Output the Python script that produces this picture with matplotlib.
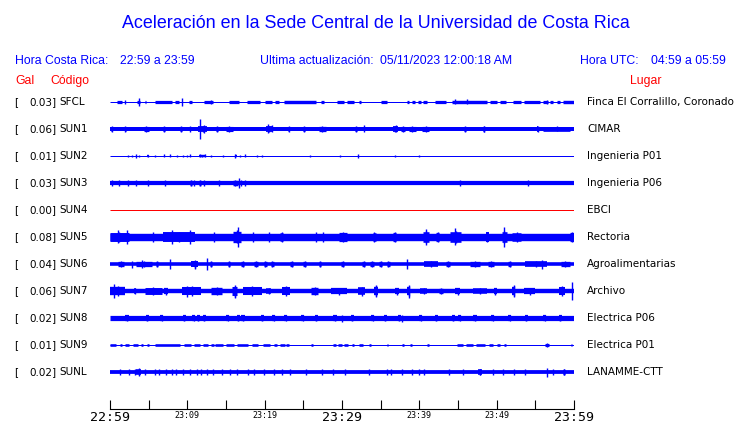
import matplotlib
matplotlib.use('Agg')
import matplotlib.pyplot as plt

W, H = 740, 423
ROW = 27.0  # trace amplitude units per row spacing

codes = ['SFCL', 'SUN1', 'SUN2', 'SUN3', 'SUN4', 'SUN5', 'SUN6', 'SUN7', 'SUN8', 'SUN9', 'SUNL']
gal = [0.03, 0.06, 0.01, 0.03, 0.00, 0.08, 0.04, 0.06, 0.02, 0.01, 0.02]
places = ['Finca El Corralillo, Coronado', 'CIMAR', 'Ingenieria P01', 'Ingenieria P06', 'EBCI',
          'Rectoria', 'Agroalimentarias', 'Archivo', 'Electrica P06', 'Electrica P01', 'LANAMME-CTT']

# background (noise) level of each trace
noise = [0.5, 2.0, 0.5, 2.1, 0.5, 3.7, 1.8, 2.2, 2.6, 0.5, 1.9]

# bursts: (start minute, end minute, peak half amplitude)
sfcl_bursts = [(0.9, 1.6, 1.6), (3.5, 3.9, 1.6), (4.5, 4.7, 1.6), (5.8, 8.0, 1.6), (8.4, 8.9, 1.6),
               (10.2, 10.6, 1.6), (12.2, 13.3, 1.6), (15.4, 16.7, 1.6), (17.7, 19.4, 1.6),
               (20.0, 20.9, 1.6), (21.4, 21.9, 1.6), (22.5, 26.7, 1.7), (27.3, 27.7, 1.6),
               (29.4, 30.2, 1.6), (30.6, 31.5, 1.6), (32.2, 32.4, 1.6), (35.1, 35.8, 1.6),
               (38.4, 38.7, 1.6), (39.1, 39.4, 1.6), (39.8, 40.2, 1.6), (40.5, 41.0, 1.6),
               (42.0, 43.5, 1.6), (44.2, 48.7, 1.7), (49.2, 50.1, 1.6), (50.4, 51.2, 1.6),
               (52.1, 53.2, 1.6), (53.5, 55.6, 1.6), (56.0, 56.6, 1.6), (56.9, 57.3, 1.6),
               (57.8, 58.2, 1.6), (58.6, 60.0, 1.7)]
sfcl_spikes = [(3.7, 4.0), (9.3, 4.2), (44.6, 2.5), (46.2, 2.5), (56.5, 2.2), (2.0, 1.6), (13.0, 1.6)]

sun1_bursts = [(0.1, 0.3, 2.8), (1.9, 2.1, 2.8), (4.4, 5.0, 2.8), (6.9, 7.1, 2.8), (9.1, 9.3, 2.8),
               (10.3, 10.4, 2.8), (11.4, 12.6, 3.3), (13.7, 14.0, 2.8), (15.0, 15.9, 2.8),
               (20.2, 21.0, 3.3), (23.0, 23.2, 2.8), (25.0, 25.2, 2.8), (27.0, 27.9, 2.9),
               (31.7, 31.9, 2.8), (36.6, 37.2, 3.3), (37.6, 38.2, 2.8), (38.6, 39.6, 2.8),
               (40.4, 41.2, 2.8), (45.8, 46.0, 2.8), (48.2, 48.4, 2.8), (55.2, 55.4, 3.3),
               (56.0, 59.5, 2.5)]
sun1_spikes = [(11.7, 10.0), (12.1, 4.0), (20.4, 4.5), (32.9, 3.5), (37.0, 3.5), (48.3, 3.0), (21.0, 3.5)]

sun2_bursts = [(4.8, 5.1, 1.2), (11.5, 12.4, 1.2), (16.1, 16.4, 1.2)]
sun2_spikes = [(2.3, 1.4), (2.9, 1.3), (3.3, 1.6), (3.8, 1.4), (4.95, 1.4), (5.8, 1.3), (7.0, 1.5),
               (7.75, 1.5), (8.6, 1.3), (9.5, 1.3), (9.9, 1.3), (10.3, 1.5), (11.6, 1.5), (11.9, 1.3),
               (12.3, 1.5), (13.1, 1.3), (14.6, 1.3), (16.2, 1.6), (16.8, 1.3), (17.4, 1.5),
               (19.0, 1.3), (19.6, 1.3), (25.9, 1.3), (29.8, 1.3), (32.1, 1.6), (36.8, 1.3), (39.9, 1.3)]

sun3_bursts = [(10.3, 10.6, 3.0), (11.5, 11.8, 3.0), (15.9, 16.5, 3.0)]
sun3_spikes = [(0.2, 3.0), (1.1, 3.0), (2.3, 3.0), (3.3, 3.0), (4.95, 3.0), (7.1, 3.0), (10.9, 3.0),
               (12.1, 3.0), (14.1, 3.0), (16.7, 5.0), (17.0, 3.0), (17.5, 3.0), (45.3, 3.0), (54.1, 3.0)]

sun4_bursts = []
sun4_spikes = []

sun5_bursts = [(0.0, 2.4, 4.8), (6.9, 11.0, 5.5), (15.9, 17.0, 6.5), (22.0, 22.4, 4.5), (29.6, 30.6, 5.0),
               (34.0, 34.4, 4.5), (36.6, 37.0, 5.0), (40.5, 41.2, 6.0), (42.2, 42.6, 5.0),
               (44.0, 45.4, 6.0), (48.6, 49.0, 5.5), (50.7, 51.3, 6.0), (52.0, 53.2, 4.5), (59.5, 60.0, 5.0)]
sun5_spikes = [(1.0, 6.5), (2.2, 7.0), (8.0, 7.0), (10.3, 7.5), (16.6, 10.0), (40.8, 8.0), (44.6, 8.5),
               (51.0, 9.5), (26.6, 5.0), (13.5, 4.5), (20.5, 4.5), (27.6, 5.0), (5.5, 4.5), (18.5, 4.5)]

sun6_bursts = [(1.0, 1.8, 3.0), (3.4, 5.4, 3.0), (6.0, 6.2, 3.0), (10.5, 11.4, 3.5), (12.9, 13.2, 3.0),
               (15.2, 15.5, 3.0), (17.0, 17.3, 3.0), (18.6, 19.1, 3.0), (19.9, 20.3, 3.0),
               (20.8, 21.2, 3.0), (23.3, 23.7, 3.0), (25.0, 25.4, 3.0), (27.0, 27.3, 3.0),
               (29.9, 30.3, 3.0), (32.6, 33.0, 3.0), (33.6, 34.1, 3.0), (34.8, 35.2, 3.0),
               (35.8, 36.2, 3.0), (40.6, 42.4, 3.3), (43.5, 44.0, 3.0), (46.5, 47.8, 3.0),
               (48.9, 49.6, 3.0), (51.5, 51.9, 3.0), (53.7, 56.5, 3.3), (58.3, 59.5, 3.0)]
sun6_spikes = [(7.8, 5.0), (12.5, 6.0), (11.0, 4.5), (38.4, 5.0), (55.8, 4.5), (4.2, 4.0), (2.8, 3.5)]

sun7_bursts = [(0.0, 2.0, 5.0), (3.1, 3.4, 3.0), (4.5, 6.7, 4.0), (7.0, 7.5, 3.5), (9.3, 11.8, 4.8),
               (13.1, 14.5, 4.3), (15.8, 16.4, 5.5), (17.2, 19.6, 4.8), (20.2, 20.8, 3.0),
               (22.2, 23.3, 4.8), (26.0, 26.9, 4.3), (28.6, 30.6, 3.5), (32.1, 33.0, 4.5),
               (34.2, 34.6, 5.0), (36.8, 37.4, 3.5), (38.4, 38.8, 5.0), (40.1, 41.0, 3.0),
               (42.6, 43.0, 2.8), (44.6, 45.3, 3.5), (46.9, 48.8, 3.0), (49.6, 50.0, 3.5),
               (52.0, 52.4, 5.0), (53.5, 55.0, 3.5), (58.1, 58.8, 4.8)]
sun7_spikes = [(0.5, 7.0), (10.0, 5.5), (16.1, 6.5), (34.4, 6.0), (38.6, 6.5), (52.2, 6.0), (59.7, 9.0)]

sun8_bursts = [(t, t + 0.4, 3.3) for t in
               [2.0, 4.6, 6.5, 9.4, 10.6, 11.2, 12.0, 15.0, 16.4, 17.0, 19.5, 21.0, 22.5, 24.7, 26.5,
                28.9, 31.1, 33.8, 35.4, 37.2, 40.0, 42.0, 44.2, 45.0, 47.0, 49.3, 51.5, 53.6, 56.0, 58.0]]
sun8_spikes = [(30.0, 3.5), (37.7, 3.5)]

sun9_bursts = [(0.0, 0.8, 1.3), (1.3, 1.6, 1.3), (2.0, 2.5, 1.3), (3.0, 3.6, 1.3), (4.0, 4.3, 1.3),
               (4.8, 5.1, 1.3), (5.8, 9.1, 1.3), (9.6, 10.5, 1.3), (10.8, 11.6, 1.3), (12.0, 12.7, 1.3),
               (13.1, 13.4, 1.3), (13.6, 14.6, 1.3), (15.0, 16.0, 1.3), (16.4, 17.8, 1.3),
               (18.3, 19.2, 1.3), (19.8, 20.7, 1.3), (21.2, 21.6, 1.3), (22.0, 22.6, 1.3),
               (22.8, 23.2, 1.3), (26.0, 26.2, 1.3), (28.8, 29.2, 1.3), (29.5, 30.0, 1.3),
               (30.2, 30.8, 1.3), (31.3, 31.6, 1.3), (32.2, 32.7, 1.3), (33.5, 33.7, 1.3),
               (35.8, 36.0, 1.3), (37.8, 38.0, 1.3), (38.8, 39.0, 1.3), (41.0, 41.3, 1.3),
               (44.9, 45.6, 1.3), (46.0, 47.0, 1.3), (47.3, 48.5, 1.3), (49.0, 49.5, 1.3),
               (50.1, 50.4, 1.3), (51.0, 51.2, 1.3), (56.2, 56.8, 2.0), (59.6, 59.8, 1.3)]
sun9_spikes = []

sunl_bursts = [(3.4, 4.0, 3.2), (47.6, 48.1, 3.2), (58.6, 58.9, 3.0)]
sunl_spikes = [(t, 2.8) for t in
               [1.3, 2.5, 3.2, 4.5, 5.8, 6.3, 7.3, 8.0, 8.5, 9.5, 10.3, 11.2, 11.8, 12.6, 13.3, 14.5,
                15.5, 16.4, 17.8, 18.6, 19.9, 21.2, 22.3, 23.3, 25.3, 27.4, 28.8, 30.4, 33.5, 35.8,
                36.3, 37.8, 39.0, 39.9, 40.6, 43.8, 45.6, 49.5, 50.8, 52.2, 53.6, 57.3]] + \
              [(3.7, 4.2), (47.8, 3.2), (56.5, 4.5), (58.7, 3.2)]

bursts = [sfcl_bursts, sun1_bursts, sun2_bursts, sun3_bursts, sun4_bursts, sun5_bursts,
          sun6_bursts, sun7_bursts, sun8_bursts, sun9_bursts, sunl_bursts]
spikes = [sfcl_spikes, sun1_spikes, sun2_spikes, sun3_spikes, sun4_spikes, sun5_spikes,
          sun6_spikes, sun7_spikes, sun8_spikes, sun9_spikes, sunl_spikes]

tick_minutes = list(range(0, 61, 5))
tick_labels = ['22:59', '', '23:09', '', '23:19', '', '23:29', '', '23:39', '', '23:49', '', '23:59']
big_labels = ['22:59', '23:29', '23:59']


def fx(px):
    return px / W


def fy(py):
    return 1 - py / H


def lw(amp):
    # full trace thickness (2*amp, in pixels) as a line width in points
    return 2 * amp * 72 / 100


fig = plt.figure(figsize=(W / 100, H / 100), dpi=100)

# traces
ax = fig.add_axes([fx(110), fy(385.5), fx(464), 297 / H])
ax.set_xlim(0, 60)
ax.set_ylim(len(codes) - 0.5, -0.5)
ax.axis('off')

for i, code in enumerate(codes):
    color = 'red' if code == 'SUN4' else 'blue'
    b = noise[i]
    ax.hlines(i, 0, 60, color=color, linewidth=lw(b))
    for t0, t1, a in bursts[i]:
        if a < 2:
            # small trace: blocky packets
            ax.hlines(i, t0, t1, color=color, linewidth=lw(a))
        else:
            # dense packet plus its peak in the middle
            ax.hlines(i, t0, t1, color=color, linewidth=lw(b + 0.7 * (a - b)))
            ax.vlines((t0 + t1) / 2, i - a / ROW, i + a / ROW, color=color, linewidth=1.0)
    for t, a in spikes[i]:
        ax.vlines(t, i - a / ROW, i + a / ROW, color=color, linewidth=1.0)

# time axis
tax = fig.add_axes([fx(110), fy(409), fx(464), 10 / H])
tax.set_xlim(0, 60)
tax.patch.set_visible(False)
for s in ['top', 'left', 'right']:
    tax.spines[s].set_visible(False)
tax.spines['bottom'].set_linewidth(0.8)
tax.set_yticks([])
tax.set_xticks(tick_minutes)
tax.set_xticklabels(tick_labels, family='DejaVu Sans Mono')
tax.tick_params(axis='x', direction='in', length=6.5, width=0.8, pad=1.5)
for lab in tax.get_xticklabels():
    lab.set_fontsize(9.5 if lab.get_text() in big_labels else 6)

# header
blue = '#0000ff'
hf = 'Liberation Sans'
fig.text(fx(375.5), fy(23), 'Aceleración en la Sede Central de la Universidad de Costa Rica',
         ha='center', va='center', fontsize=12.9, color=blue, family=hf)
fig.text(fx(15), fy(61), 'Hora Costa Rica:', va='center', fontsize=8.8, color=blue, family=hf)
fig.text(fx(120), fy(61), '22:59 a 23:59', va='center', fontsize=8.8, color=blue, family=hf)
fig.text(fx(260), fy(61), 'Ultima actualización:', va='center', fontsize=8.8, color=blue, family=hf)
fig.text(fx(380), fy(61), '05/11/2023 12:00:18 AM', va='center', fontsize=8.8, color=blue, family=hf)
fig.text(fx(580), fy(61), 'Hora UTC:', va='center', fontsize=8.8, color=blue, family=hf)
fig.text(fx(651), fy(61), '04:59 a 05:59', va='center', fontsize=8.8, color=blue, family=hf)
fig.text(fx(15), fy(81), 'Gal', va='center', fontsize=8.8, color='red', family=hf)
fig.text(fx(50), fy(81), 'Código', va='center', fontsize=8.8, color='red', family=hf)
fig.text(fx(630), fy(81), 'Lugar', va='center', fontsize=8.8, color='red', family=hf)

# station labels
for i, code in enumerate(codes):
    y = 102 + 27 * i
    fig.text(fx(14), fy(y), '[', va='center', fontsize=7.5)
    fig.text(fx(56), fy(y), f'{gal[i]:.2f}]', ha='right', va='center', fontsize=7.5)
    fig.text(fx(59), fy(y), code, va='center', fontsize=7.5)
    fig.text(fx(587), fy(y), places[i], va='center', fontsize=7.5)

fig.savefig('out.png', dpi=100)
